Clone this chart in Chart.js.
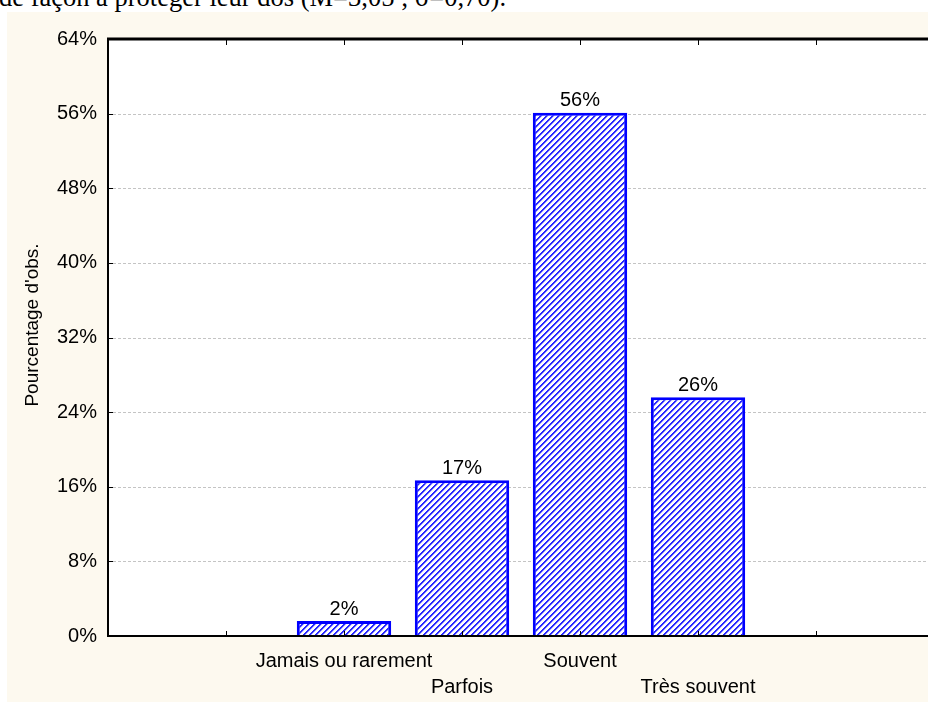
<!DOCTYPE html>
<html lang="fr">
<head>
  <meta charset="UTF-8">
  <title>Pourcentage d'obs.</title>
  <script src="https://cdn.jsdelivr.net/npm/chart.js"></script>
  <style>
    html, body { margin: 0; padding: 0; background: #fff; overflow: hidden; }
    body { width: 928px; height: 702px; position: relative; }
    .caption {
      position: absolute; left: -1px; top: -16px; white-space: nowrap;
      font-family: 'Liberation Serif', serif; font-size: 26.5px; line-height: 26.5px; color: #000;
    }
    .panel {
      position: absolute; left: 7px; top: 12px; width: 939px; height: 690px;
      background: #fdf9ef;
    }
    canvas { display: block; }
  </style>
</head>
<body>
  <div class="caption">de façon à protéger leur dos (M=3,05 ; σ=0,70).</div>
  <div class="panel"><canvas id="chart" width="939" height="690"></canvas></div>
  <script>
    const categories = ['Jamais ou rarement', 'Parfois', 'Souvent', 'Très souvent'];
    const percents = [1.6, 16.7, 56.1, 25.6];
    const yMax = 64;
    const yStep = 8;
    const yTitle = "Pourcentage d'obs.";

    // two empty slots on each side, like the original axis
    const slots = ['', '', ...categories, '', ''];
    const values = [null, null, ...percents, null, null];

    Chart.defaults.font.family = "'Liberation Sans', Arial, sans-serif";
    Chart.defaults.color = '#000';

    // blue "/" hatch
    function hatch() {
      const n = 6;
      const c = document.createElement('canvas');
      c.width = n; c.height = n;
      const g = c.getContext('2d');
      const img = g.createImageData(n, n);
      for (let py = 0; py < n; py++) {
        for (let px = 0; px < n; px++) {
          const k = (py * n + px) * 4;
          const d = (px + py) % n;
          const v = d < 2 ? 40 : d === 2 ? 170 : 255;
          img.data[k] = v;
          img.data[k + 1] = v;
          img.data[k + 2] = 255;
          img.data[k + 3] = 255;
        }
      }
      g.putImageData(img, 0, 0);
      return g.createPattern(c, 'repeat');
    }

    const frame = {
      id: 'frame',
      beforeDraw(chart) {
        const { ctx, chartArea: a } = chart;
        ctx.save();
        ctx.fillStyle = '#fff';
        ctx.fillRect(a.left, a.top, a.right - a.left, a.bottom - a.top);
        ctx.restore();
      },
      beforeDatasetsDraw(chart) {
        const { ctx, chartArea: a, scales: { y } } = chart;
        ctx.save();
        ctx.strokeStyle = '#c4c4c4';
        ctx.lineWidth = 1;
        ctx.setLineDash([3, 2]);
        y.ticks.forEach(t => {
          if (t.value <= 0 || t.value >= yMax) return;
          const py = Math.round(y.getPixelForValue(t.value)) + 0.5;
          ctx.beginPath();
          ctx.moveTo(a.left, py);
          ctx.lineTo(a.right, py);
          ctx.stroke();
        });
        ctx.restore();
      },
      afterDatasetsDraw(chart) {
        const { ctx, chartArea: a, scales: { x, y } } = chart;
        ctx.save();
        ctx.strokeStyle = '#000';
        ctx.lineWidth = 2;
        ctx.beginPath();
        ctx.moveTo(a.left, a.top);
        ctx.lineTo(a.left, a.bottom);
        ctx.lineTo(a.right, a.bottom);
        ctx.stroke();
        ctx.lineWidth = 3;
        ctx.beginPath();
        ctx.moveTo(a.left - 1, a.top);
        ctx.lineTo(a.right, a.top);
        ctx.stroke();

        ctx.lineWidth = 1;
        ctx.beginPath();
        for (let i = 1; i < slots.length - 1; i++) {
          const px = Math.round(x.getPixelForValue(i)) + 0.5;
          ctx.moveTo(px, a.top);
          ctx.lineTo(px, a.top + 6);
          ctx.moveTo(px, a.bottom);
          ctx.lineTo(px, a.bottom - 5);
        }
        y.ticks.forEach(t => {
          if (t.value <= 0 || t.value >= yMax) return;
          const py = Math.round(y.getPixelForValue(t.value)) + 0.5;
          ctx.moveTo(a.left, py);
          ctx.lineTo(a.left + 5, py);
        });
        ctx.stroke();

        // value labels over the bars
        ctx.fillStyle = '#000';
        ctx.font = "20px 'Liberation Sans', Arial, sans-serif";
        ctx.textAlign = 'center';
        ctx.textBaseline = 'bottom';
        chart.getDatasetMeta(0).data.forEach((bar, i) => {
          if (values[i] == null) return;
          ctx.fillText(Math.round(values[i]) + '%', bar.x, bar.y - 2);
        });

        // y axis title
        ctx.font = "19px 'Liberation Sans', Arial, sans-serif";
        ctx.textBaseline = 'middle';
        ctx.translate(26, 313);
        ctx.rotate(-Math.PI / 2);
        ctx.fillText(yTitle, 0, 0);
        ctx.restore();
      }
    };

    const ctx = document.getElementById('chart').getContext('2d');
    new Chart(ctx, {
      type: 'bar',
      data: {
        labels: slots,
        datasets: [{
          data: values,
          backgroundColor: hatch(),
          borderColor: '#0000ff',
          borderWidth: 3,
          borderSkipped: 'start',
          barPercentage: 1,
          categoryPercentage: 0.8
        }]
      },
      options: {
        responsive: false,
        animation: false,
        layout: { padding: { top: 27, right: 0, left: 0, bottom: 0 } },
        plugins: { legend: { display: false }, tooltip: { enabled: false } },
        scales: {
          x: {
            offset: false,
            grid: { display: false, drawTicks: false },
            border: { display: false },
            afterFit: s => { s.height = 66; },
            ticks: {
              autoSkip: false,
              maxRotation: 0,
              padding: 12,
              font: { size: 20, lineHeight: 1.33 },
              callback: (v, i) => (i % 2 === 1 && slots[i]) ? ['', slots[i]] : slots[i]
            }
          },
          y: {
            min: 0,
            max: yMax,
            grid: { display: false, drawTicks: false },
            border: { display: false },
            afterFit: s => { s.width = 101; },
            ticks: {
              stepSize: yStep,
              padding: 11,
              font: { size: 20 },
              callback: v => v + '%'
            }
          }
        }
      },
      plugins: [frame]
    });
  </script>
</body>
</html>
